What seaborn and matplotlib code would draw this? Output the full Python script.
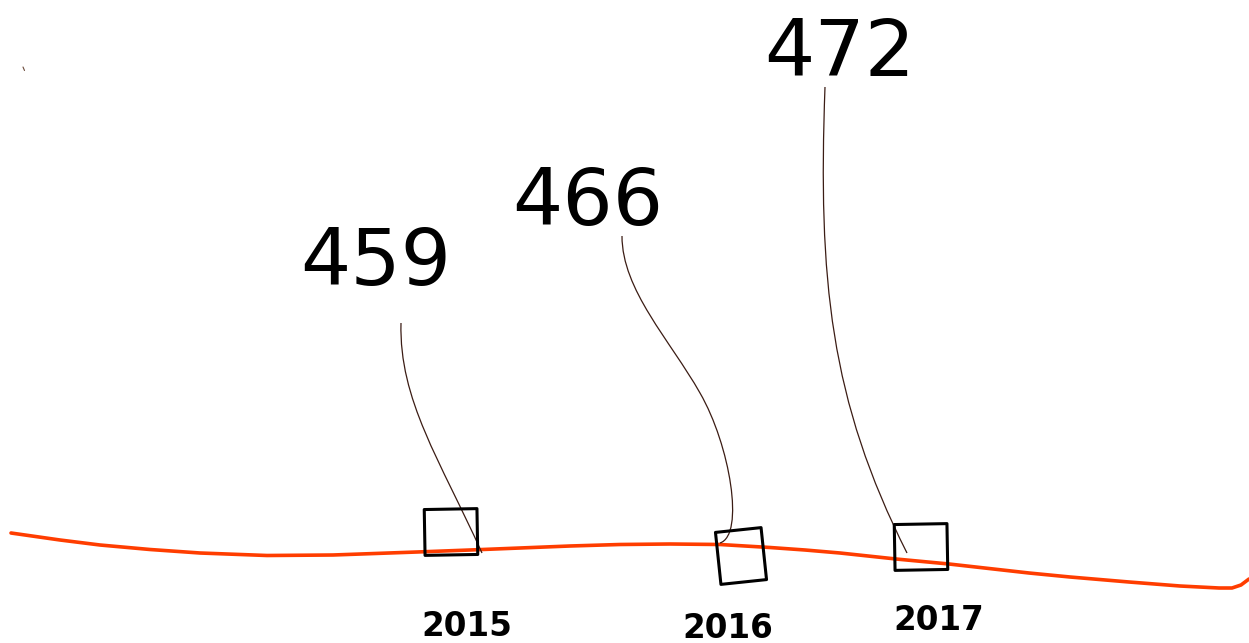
import matplotlib
matplotlib.use("Agg")
import matplotlib.pyplot as plt
from matplotlib.markers import MarkerStyle
from matplotlib.path import Path
from matplotlib.patches import PathPatch
from matplotlib.transforms import Affine2D
import seaborn as sns

# Data
years = ["2015", "2016", "2017"]
values = [459, 466, 472]

# Hand-drawn timeline (canvas units)
curve_x = [11, 60, 100, 150, 200, 267, 333, 417, 470, 520, 570, 620, 670,
           720, 745, 770, 805, 840, 896, 949, 1029, 1070, 1129, 1180, 1219,
           1232, 1241, 1249]
curve_y = [533, 540, 545, 549.5, 553, 555.5, 555, 552, 550, 548, 546, 544.5,
           544, 544.5, 546, 547.5, 550, 553, 559, 564, 573, 577, 582, 586,
           588, 588, 585, 579]

# Layout (canvas units, y grows downwards)
mark_x = [451, 741, 921]
mark_y = [532, 556, 547]
mark_tilt = [1, 6, 1]
mark_stretch = [(1.15, 1.0), (1.0, 1.14), (1.15, 1.0)]
value_xy = [(376, 285), (588, 225), (840, 76)]
year_xy = [(467, 636), (728, 638), (939, 630)]

# Leader lines: list of cubic bezier segments (start, c1, c2, end)
leaders = [
    [(401, 323), (399, 400), (440, 460), (482, 553)],
    [(622, 236), (622, 290), (670, 340), (700, 393),
     (730, 445), (745, 535), (720, 543)],
    [(825, 87), (818, 280), (830, 400), (907, 553)],
]

sns.set_theme(style="white")
plt.rcParams["font.family"] = ["DejaVu Sans"]

fig = plt.figure(figsize=(12.49, 6.43), dpi=100)
ax = fig.add_axes([0, 0, 1, 1])

# Orange timeline
sns.lineplot(x=curve_x, y=curve_y, sort=False, estimator=None,
             color="#ff3d00", linewidth=2.6, ax=ax)

# Square markers, slightly tilted like a sketch
for i in range(len(years)):
    sx, sy = mark_stretch[i]
    m = MarkerStyle("s", transform=Affine2D().scale(sx, sy).rotate_deg(mark_tilt[i]))
    sns.scatterplot(x=[mark_x[i]], y=[mark_y[i]], marker=m, s=33 ** 2,
                    facecolor="none", edgecolor="black", linewidth=2.2,
                    ax=ax, zorder=3)

# Leader lines
for pts in leaders:
    codes = [Path.MOVETO] + [Path.CURVE4] * (len(pts) - 1)
    ax.add_patch(PathPatch(Path(pts, codes), facecolor="none",
                           edgecolor="#3b1c14", linewidth=0.9, zorder=2))

# stray pen mark
ax.plot([23, 24.5], [67, 70.5], color="#6b4a3a", linewidth=0.8)

# Labels
for i, v in enumerate(values):
    ax.text(value_xy[i][0], value_xy[i][1], str(v), ha="center", va="baseline",
            fontsize=57, color="black")
    ax.text(year_xy[i][0], year_xy[i][1], years[i], ha="center", va="baseline",
            fontsize=23.5, fontweight="heavy", color="black")

ax.set_xlim(0, 1249)
ax.set_ylim(643, 0)
ax.axis("off")

fig.savefig("out.png", dpi=100, facecolor="white")
